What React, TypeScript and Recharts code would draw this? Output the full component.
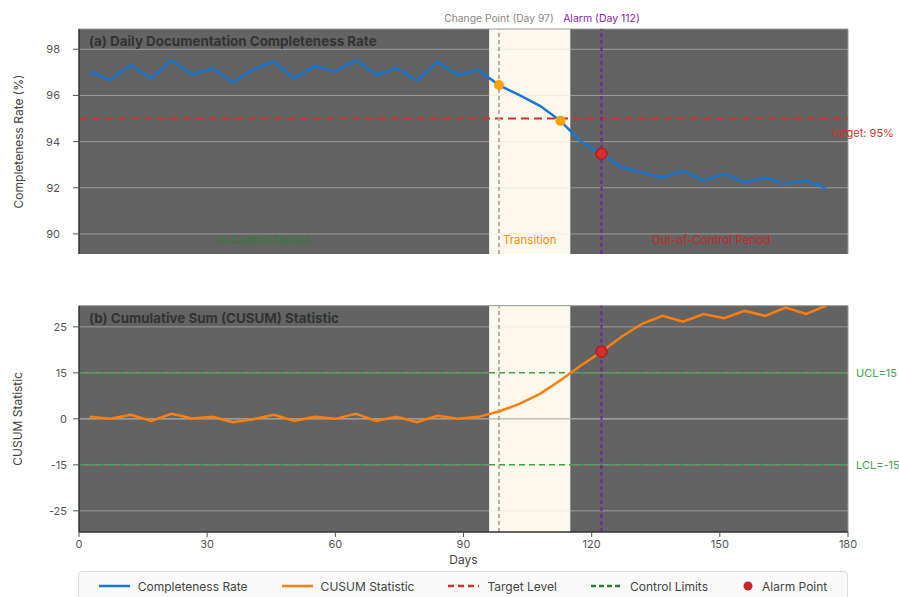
import React from 'react';
import {
  LineChart, Line, XAxis, YAxis, CartesianGrid,
  ReferenceLine, ReferenceArea, ReferenceDot,
} from 'recharts';

// sampled days (x positions of the plotted points)
const days = [
  2.5, 7.3, 12.1, 16.9, 21.7, 26.5, 31.2, 36.0, 40.8, 45.6,
  50.4, 55.2, 60.0, 64.8, 69.6, 74.4, 79.1, 83.9, 88.7, 93.5,
  98.3, 103.1, 107.9, 112.7, 117.5, 122.3, 127.0, 131.8, 136.6, 141.4,
  146.2, 151.0, 155.8, 160.6, 165.4, 170.2, 174.9,
];

const completenessRate = [
  97.03, 96.67, 97.32, 96.74, 97.54, 96.89, 97.18, 96.57, 97.13, 97.46,
  96.74, 97.28, 97.03, 97.54, 96.89, 97.18, 96.64, 97.46, 96.89, 97.1,
  96.45, 96.01, 95.55, 94.9, 94.0, 93.47, 92.89, 92.66, 92.44, 92.74,
  92.31, 92.6, 92.23, 92.44, 92.16, 92.31, 91.98,
];

const cusum = [
  0.65, 0, 1.3, -0.65, 1.63, 0.1, 0.65, -1.1, -0.1, 1.3,
  -0.65, 0.65, 0, 1.63, -0.65, 0.65, -1.1, 1.0, 0, 0.65,
  2.4, 4.9, 8.15, 12.6, 17.4, 21.9, 26.8, 31.0, 33.6, 31.7,
  34.2, 32.8, 35.2, 33.6, 36.3, 34.2, 36.9,
];

const dayTicks = [0, 30, 60, 90, 120, 150, 180];
const rateTicks = [90, 92, 94, 96, 98];
const cusumTicks = [-30, -15, 0, 15, 30];
const cusumTickLabels = ['-25', '-15', '0', '15', '25'];

const CHANGE_IDX = 20;
const CROSS_IDX = 23;
const ALARM_IDX = 25;
const TRANSITION = [96, 115];
const TARGET = 95;
const UCL = 15;
const LCL = -15;

const rateDomain = [89.13, 98.88];
const cusumDomain = [-36.9, 36.9];

const regionLabels = [
  { x: 43, text: 'In-Control Period', color: '#2e7d32' },
  { x: 105.5, text: 'Transition', color: '#fb8c00' },
  { x: 148, text: 'Out-of-Control Period', color: '#c62828' },
];

const legendItems = [
  { label: 'Completeness Rate', color: '#1976d2', kind: 'line', dash: '' },
  { label: 'CUSUM Statistic', color: '#ff7f0e', kind: 'line', dash: '' },
  { label: 'Target Level', color: '#d32f2f', kind: 'line', dash: '6 4' },
  { label: 'Control Limits', color: '#2e7d32', kind: 'line', dash: '5 3' },
  { label: 'Alarm Point', color: '#c62828', kind: 'dot', dash: '' },
];

const rows = days.map((d, i) => ({ day: d, rate: completenessRate[i], cusum: cusum[i] }));

const FONT = 'Inter, "DejaVu Sans", sans-serif';
const tickStyle = { fontSize: 11, fill: '#555', fontFamily: FONT };

const panelTitle = (text: string) => (props: any) => {
  const { viewBox } = props;
  return (
    <text x={viewBox.x + 10} y={viewBox.y + 12} dominantBaseline="central"
      fontSize={13.4} fontWeight={700} fill="#333" fontFamily={FONT}>
      {text}
    </text>
  );
};

const axisTitle = (text: string) => (props: any) => {
  const { viewBox } = props;
  const cx = 18;
  const cy = viewBox.y + viewBox.height / 2;
  return (
    <text x={cx} y={cy} transform={`rotate(-90, ${cx}, ${cy})`} textAnchor="middle"
      dominantBaseline="central" fontSize={12} fill="#444" fontFamily={FONT}>
      {text}
    </text>
  );
};

const targetLabel = (props: any) => {
  const { viewBox } = props;
  return (
    <text x={viewBox.x + viewBox.width + 14} y={viewBox.y + 14} textAnchor="middle"
      dominantBaseline="central" fontSize={11} fill="#d32f2f" fontFamily={FONT}>
      Target: 95%
    </text>
  );
};

const gridLine = { stroke: 'rgb(222,222,222)', strokeOpacity: 0.46, strokeWidth: 1 };
const borderLine = { stroke: '#9a9a9a', strokeWidth: 1 };

function Legend() {
  return (
    <div style={{
      position: 'absolute', left: 78, top: 571, width: 770, height: 30,
      border: '1px solid #ddd', borderRadius: 4, background: '#f9f9f9',
      display: 'flex', alignItems: 'center', justifyContent: 'center', gap: 34,
      fontFamily: FONT, fontSize: 12, color: '#444', boxSizing: 'border-box',
    }}>
      {legendItems.map((it) => (
        <div key={it.label} style={{ display: 'flex', alignItems: 'center', gap: 8 }}>
          {it.kind === 'dot' ? (
            <svg width={12} height={12}><circle cx={6} cy={6} r={4.5} fill={it.color} /></svg>
          ) : (
            <svg width={31} height={10}>
              <line x1={0} y1={5} x2={31} y2={5} stroke={it.color} strokeWidth={2.5} strokeDasharray={it.dash || undefined} />
            </svg>
          )}
          <span>{it.label}</span>
        </div>
      ))}
    </div>
  );
}

export default function App() {
  return (
    <div style={{ position: 'absolute', left: 0, top: 0, width: 899, height: 597, background: '#fff', fontFamily: FONT }}>
      <div style={{ position: 'absolute', left: 0, top: 0 }}>
        <LineChart width={899} height={270} data={rows} margin={{ top: 29, right: 51, bottom: 16, left: 0 }}>
          <CartesianGrid fill="#636363" fillOpacity={1} horizontal={false} vertical={false} />
          <XAxis type="number" dataKey="day" domain={[0, 180]} ticks={dayTicks} allowDataOverflow
            tick={false} tickLine={false} height={0} axisLine={{ stroke: '#333', strokeWidth: 1.5 }} />
          <YAxis type="number" domain={rateDomain} ticks={rateTicks} allowDataOverflow width={79}
            tick={tickStyle} tickSize={6} tickMargin={13} tickLine={{ stroke: '#555' }}
            axisLine={{ stroke: '#333', strokeWidth: 1.5 }} label={axisTitle('Completeness Rate (%)')} />
          <ReferenceArea x1={TRANSITION[0]} x2={TRANSITION[1]} fill="#fcf8ec" fillOpacity={1} stroke="none" />
          {rateTicks.map((t) => <ReferenceLine key={t} y={t} {...gridLine} />)}
          <ReferenceLine y={rateDomain[1]} ifOverflow="visible" {...borderLine} label={panelTitle('(a) Daily Documentation Completeness Rate')} />
          <ReferenceLine x={180} ifOverflow="visible" {...borderLine} />
          <ReferenceLine y={TARGET} stroke="#d32f2f" strokeWidth={2} strokeDasharray="8 5" label={targetLabel} />
          <ReferenceLine x={days[CHANGE_IDX]} stroke="#b0b0b0" strokeWidth={2} strokeDasharray="4 3"
            label={{ value: 'Change Point (Day 97)', position: 'top', offset: 7, fill: '#888', fontSize: 10.3, fontFamily: FONT }} />
          <ReferenceLine x={days[ALARM_IDX]} stroke="#7b1fa2" strokeWidth={2} strokeDasharray="4 3"
            label={{ value: 'Alarm (Day 112)', position: 'top', offset: 7, fill: '#8e24aa', fontSize: 10.5, fontFamily: FONT }} />
          {regionLabels.map((r) => (
            <ReferenceDot key={r.text} x={r.x} y={89.74} r={0} fill="none" stroke="none"
              label={{ value: r.text, position: 'center', fill: r.color, fontSize: 11.5, fontFamily: FONT }} />
          ))}
          <Line type="linear" dataKey="rate" stroke="#1976d2" strokeWidth={2.5} dot={false} isAnimationActive={false} />
          <ReferenceDot x={days[CHANGE_IDX]} y={completenessRate[CHANGE_IDX]} r={5} fill="#ffa000" stroke="none" />
          <ReferenceDot x={days[CROSS_IDX]} y={completenessRate[CROSS_IDX]} r={5} fill="#ffa000" stroke="none" />
          <ReferenceDot x={days[ALARM_IDX]} y={completenessRate[ALARM_IDX]} r={5.5} fill="#d32f2f" stroke="#b71c1c" strokeWidth={1.5} />
        </LineChart>
      </div>

      <div style={{ position: 'absolute', left: 0, top: 270 }}>
        <LineChart width={899} height={300} data={rows} margin={{ top: 35.7, right: 51, bottom: 4, left: 0 }}>
          <CartesianGrid fill="#636363" fillOpacity={1} horizontal={false} vertical={false} />
          <XAxis type="number" dataKey="day" domain={[0, 180]} ticks={dayTicks} allowDataOverflow height={34}
            tick={tickStyle} tickSize={5} tickMargin={3} tickLine={{ stroke: '#555' }}
            axisLine={{ stroke: '#333', strokeWidth: 1.5 }}
            label={{ value: 'Days', position: 'insideBottom', offset: 2, fill: '#444', fontSize: 12, fontFamily: FONT }} />
          <YAxis type="number" domain={cusumDomain} ticks={cusumTicks} allowDataOverflow width={79}
            tickFormatter={(v: number) => cusumTickLabels[cusumTicks.indexOf(v)] ?? String(v)}
            tick={tickStyle} tickSize={6} tickMargin={6} tickLine={{ stroke: '#555' }}
            axisLine={{ stroke: '#333', strokeWidth: 1.5 }} label={axisTitle('CUSUM Statistic')} />
          <ReferenceArea x1={TRANSITION[0]} x2={TRANSITION[1]} fill="#fcf8ec" fillOpacity={1} stroke="none" />
          {cusumTicks.map((t) => <ReferenceLine key={t} y={t} {...gridLine} />)}
          <ReferenceLine y={0} stroke="#a8a8a8" strokeWidth={1} />
          <ReferenceLine y={cusumDomain[1]} ifOverflow="visible" {...borderLine} label={panelTitle('(b) Cumulative Sum (CUSUM) Statistic')} />
          <ReferenceLine x={180} ifOverflow="visible" {...borderLine} />
          <ReferenceLine y={UCL} stroke="#43a047" strokeWidth={1.5} strokeDasharray="6 4"
            label={{ value: 'UCL=15', position: 'right', offset: 8, fill: '#43a047', fontSize: 11, fontFamily: FONT }} />
          <ReferenceLine y={LCL} stroke="#43a047" strokeWidth={1.5} strokeDasharray="6 4"
            label={{ value: 'LCL=-15', position: 'right', offset: 8, fill: '#43a047', fontSize: 11, fontFamily: FONT }} />
          <ReferenceLine x={days[CHANGE_IDX]} stroke="#b0b0b0" strokeWidth={2} strokeDasharray="4 3" />
          <ReferenceLine x={days[ALARM_IDX]} stroke="#7b1fa2" strokeWidth={2} strokeDasharray="4 3" />
          <Line type="linear" dataKey="cusum" stroke="#ff7f0e" strokeWidth={2.5} dot={false} isAnimationActive={false} />
          <ReferenceDot x={days[ALARM_IDX]} y={cusum[ALARM_IDX]} r={5.5} fill="#d32f2f" stroke="#b71c1c" strokeWidth={1.5} />
        </LineChart>
      </div>

      <Legend />
    </div>
  );
}
